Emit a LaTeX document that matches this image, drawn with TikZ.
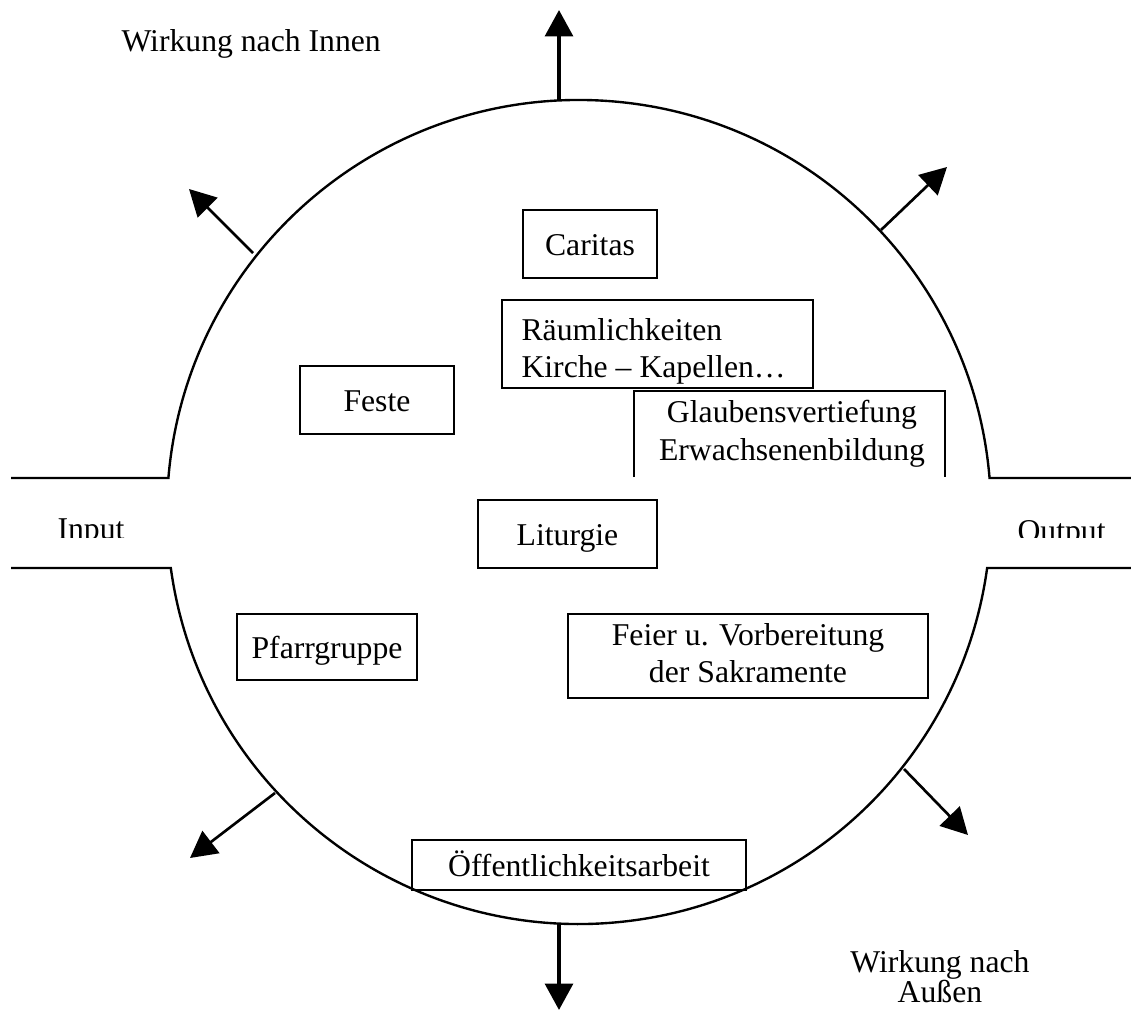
\documentclass[tikz,border=0pt]{standalone}
\usepackage{fontspec}
\setmainfont{Liberation Serif}
\usetikzlibrary{arrows.meta}
\tikzset{
  pxbox/.style={draw, line width=0.75pt, inner sep=0pt, text height=9pt, text depth=0pt, font=\fontsize{12}{14}\selectfont},
  emptybox/.style={draw, line width=0.75pt, inner sep=0pt},
  txt/.style={inner sep=0pt, font=\fontsize{12}{14}\selectfont},
  ring/.style={line width=0.9pt},
  bigarrow/.style={line width=1.5pt, -{Triangle[width=10.5pt,length=10pt]}},
  diagarrow/.style={line width=1pt, -{Triangle[width=10.5pt,length=10pt]}}
}
\def\u{0.3785pt}
\begin{document}
\begin{tikzpicture}[x=0.3785pt, y=-0.3785pt]
\useasboundingbox (0,0) rectangle (1131,1010);

% ring with input/output openings
\coordinate (ulstart) at (168.4,478);
\coordinate (llstart) at (170.8,568);
\draw[ring] (11,478) -- (ulstart) arc[start angle=175.27, end angle=4.73, radius=155.94pt] -- (1131,478);
\draw[ring] (11,568) -- (llstart) arc[start angle=187.81, end angle=352.19, radius=155.94pt] -- (1131,568);

% arrow coordinates
\coordinate (tS) at (559,100);   \coordinate (tE) at (559,10);
\coordinate (bS) at (559,924);   \coordinate (bE) at (559,1010);
\coordinate (tlS) at (253,253);  \coordinate (tlE) at (189,189);
\coordinate (trS) at (881,230);  \coordinate (trE) at (947,167);
\coordinate (blS) at (275,793);  \coordinate (blE) at (190,858);
\coordinate (brS) at (904,769);  \coordinate (brE) at (968,835);
\draw[bigarrow] (tS) -- (tE);
\draw[bigarrow] (bS) -- (bE);
\draw[diagarrow] (tlS) -- (tlE);
\draw[diagarrow] (trS) -- (trE);
\draw[diagarrow] (blS) -- (blE);
\draw[diagarrow] (brS) -- (brE);

% boxes
\node[pxbox, minimum width=134*\u, minimum height=68*\u] (caritas) at (590,244) {Caritas};
\node[emptybox, minimum width=311*\u, minimum height=88*\u] (raum) at (657.5,344) {};
\node[txt, anchor=base west] (raum1) at (521,340) {Räumlichkeiten};
\node[txt, anchor=base west] (raum2) at (521,377) {Kirche – Kapellen…};
\node[pxbox, minimum width=154*\u, minimum height=68*\u] (feste) at (377,400) {Feste};
\draw[line width=0.75pt] (634,477) -- (634,391) -- (945,391) -- (945,477);
\begin{scope}
\clip (630,380) rectangle (950,474);
\node[txt, anchor=base] (glaub1) at (792,422) {Glaubensvertiefung};
\node[txt, anchor=base] (glaub2) at (792,460) {Erwachsenenbildung};
\end{scope}
\node[pxbox, minimum width=179*\u, minimum height=68*\u] (liturgie) at (567.5,534) {Liturgie};
\node[pxbox, minimum width=180*\u, minimum height=66*\u] (pfarr) at (327,647) {Pfarrgruppe};
\node[emptybox, minimum width=360*\u, minimum height=84*\u] (feier) at (748,656) {};
\node[txt, anchor=base] (feier1) at (748,645) {Feier u. Vorbereitung};
\node[txt, anchor=base] (feier2) at (748,682) {der Sakramente};
\node[pxbox, minimum width=334*\u, minimum height=50*\u] (oeff) at (579,865) {Öffentlichkeitsarbeit};

% labels
\node[txt, anchor=base west] (innen) at (121,52) {Wirkung nach Innen};
\node[txt, anchor=base] (aussen1) at (940,972) {Wirkung nach};
\node[txt, anchor=base] (aussen2) at (940,1002) {Außen};
\begin{scope}
\clip (0,490) rectangle (1131,537);
\node[txt, anchor=base west] (input) at (57,539) {Input};
\node[txt, anchor=base west] (output) at (1017,541) {Output};
\end{scope}
\end{tikzpicture}
\end{document}
